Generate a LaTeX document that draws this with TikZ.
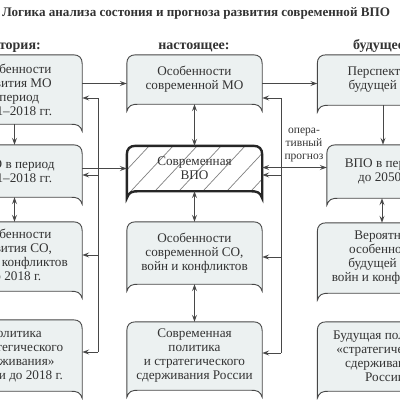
\documentclass[tikz,border=0pt]{standalone}
\usepackage{fontspec}
\setmainfont{Liberation Serif}
\usetikzlibrary{arrows.meta,backgrounds,calc}
\definecolor{boxfill}{HTML}{ECF1F1}
\definecolor{boxline}{HTML}{474747}
\definecolor{txt}{HTML}{333333}
\definecolor{hatchc}{HTML}{808080}
\tikzset{
  bx/.style={draw=none, inner sep=0pt, align=center, text=txt, minimum width=135pt,
    font=\fontsize{13.2}{14}\selectfont},
  bubble/.style={draw=boxline, line width=0.9pt, fill=boxfill},
  thickbubble/.style={draw=black!85, line width=2.4pt},
  tip/.tip={Stealth[open,length=7pt,width=5pt,inset=2.5pt]},
  arr/.style={draw=boxline, line width=0.8pt, -tip},
  dbl/.style={draw=boxline, line width=0.8pt, tip-tip},
  bus/.style={draw=boxline, line width=0.8pt},
  hdr/.style={font=\bfseries\fontsize{14}{16}\selectfont, text=txt, inner sep=0pt},
}
\newcommand\bub[2][bubble]{%
  \path[#1] let \p1=(#2.north west), \p2=(#2.south east) in
  (\x1,\y2-7pt) -- (\x1,\y1-9pt) .. controls (\x1,\y1-3pt) and (\x1+3pt,\y1) .. (\x1+9pt,\y1)
  -- (\x2-9pt,\y1) .. controls (\x2-3pt,\y1) and (\x2,\y1-3pt) .. (\x2,\y1-9pt)
  -- (\x2,\y2-7pt) .. controls (\x2-2pt,\y2-1pt) and (\x2-5pt,\y2) .. (\x2-12pt,\y2)
  -- (\x1+12pt,\y2) .. controls (\x1+5pt,\y2) and (\x1+2pt,\y2-1pt) .. (\x1,\y2-7pt) -- cycle;}
\begin{document}
\begin{tikzpicture}[x=1pt,y=-1pt]
\useasboundingbox (0,0) rectangle (400,400);
% title and headers
\node[hdr, anchor=base west, font=\bfseries\fontsize{13.1}{16}\selectfont] (title) at (2,16) {Логика анализа состония и прогноза развития современной ВПО};
\node[hdr, anchor=base east] (hpast) at (41,49) {История:};
\node[hdr, anchor=base] (hnow) at (194,49) {настоящее:};
\node[hdr, anchor=base west] (hfut) at (353,49) {будущее:};
% left column
\node[bx, minimum height=69pt] (l1) at (14.5,89.5) {Особенности\\развития МО\\в период\\1991–2018 гг.};
\node[bx, minimum height=52pt] (l2) at (14.5,171) {ВПО в период\\1991–2018 гг.};
\node[bx, minimum height=69pt] (l3) at (14.5,256.5) {Особенности\\развития СО,\\войн и конфликтов\\до 2018 г.};
\node[bx, minimum height=71pt] (l4) at (14.5,355.5) {Политика\\«стратегического\\сдерживания»\\России до 2018 г.};
% centre column
\node[bx, minimum height=49pt] (c1) at (194.5,79.5) {Особенности\\современной МО};
\node[bx, minimum height=45pt] (c2) at (194.5,168.5) {Современная\\ВПО};
\node[bx, minimum height=62pt] (c3) at (194.5,253) {Особенности\\современной СО,\\войн и конфликтов};
\node[bx, minimum height=68pt] (c4) at (194.5,356) {Современная\\политика\\и стратегического\\сдерживания России};
% right column
\node[bx, minimum height=50pt] (r1) at (385,80) {Перспективы\\будущей МО};
\node[bx, minimum height=53pt, minimum width=116pt] (r2) at (385,171.5) {ВПО в период\\до 2050 г.};
\node[bx, minimum height=70pt] (r3) at (385,258) {Вероятные\\особенности\\будущей СО,\\войн и конфликтов};
\node[bx, minimum height=69pt] (r4) at (385,356.5) {Будущая политика\\«стратегического\\сдерживания»\\России};
% bubbles behind
\begin{pgfonlayer}{background}
  \fill[white] (0,0) rectangle (400,400);
  \foreach \nm in {l1,l2,l3,l4,c1,c3,c4,r1,r2,r3,r4} {\bub{\nm}}
  \bub[fill=white]{c2}
  \begin{scope}
    \bub[clip]{c2}
    \foreach \i in {0,...,11} {\draw[hatchc, line width=0.7pt] (70+\i*24,205) -- ++(70,-75);}
  \end{scope}
  \bub[thickbubble]{c2}
\end{pgfonlayer}
% horizontal connectors
\draw[arr] ([yshift=-4pt]c1.west -| l1.east) -- ([yshift=-4pt]c1.west);
\draw[arr] ([yshift=-4pt]c1.east) -- ([yshift=-4pt]c1.east -| r1.west);
\draw[arr, line width=1.6pt] (c2.west -| l2.east) -- (c2.west);
\draw[dbl] ([yshift=1pt]c2.east) -- ([yshift=1pt]c2.east -| r2.west);
\node[align=center, text=txt, inner sep=0pt, font=\fontsize{11.5}{13}\selectfont,
      anchor=south] (lab) at (304,162) {опера-\\тивный\\прогноз};
% vertical connectors
\draw[arr] (l1.south) -- (l2.north);
\draw[dbl] (l2.south) -- (l3.north);
\draw[dbl] (c1.south) -- (c2.north);
\draw[dbl] (c2.south) -- (c3.north);
\draw[dbl] (c3.south) -- (c4.north);
\draw[arr] ([xshift=-2pt]r1.south) -- ([xshift=-2pt]r2.north);
\draw[dbl] ([xshift=-3pt]r2.south) -- ([xshift=-3pt]r3.north);
% left bus
\coordinate (lb1) at (98,98);
\coordinate (lb2) at (98,175);
\coordinate (lb3) at (98,255);
\coordinate (lb4) at (98,352);
\draw[bus] (lb1) -- (lb4);
\draw[arr] (lb1) -- (lb1 -| l1.east);
\draw[arr] (lb2) -- (lb2 -| l2.east);
\draw[arr] (lb3) -- (lb3 -| l3.east);
\draw[arr] (lb4) -- (lb4 -| l4.east);
% right bus
\coordinate (rb1) at (281,98);
\coordinate (rb2) at (281,175);
\coordinate (rb3) at (281,257);
\coordinate (rb4) at (281,353);
\draw[bus] (rb1) -- (rb4);
\draw[arr] (rb1) -- (rb1 -| c1.east);
\draw[arr] (rb2) -- (rb2 -| c2.east);
\draw[arr] (rb3) -- (rb3 -| c3.east);
\draw[arr] (rb4) -- (rb4 -| c4.east);
\end{tikzpicture}
\end{document}
